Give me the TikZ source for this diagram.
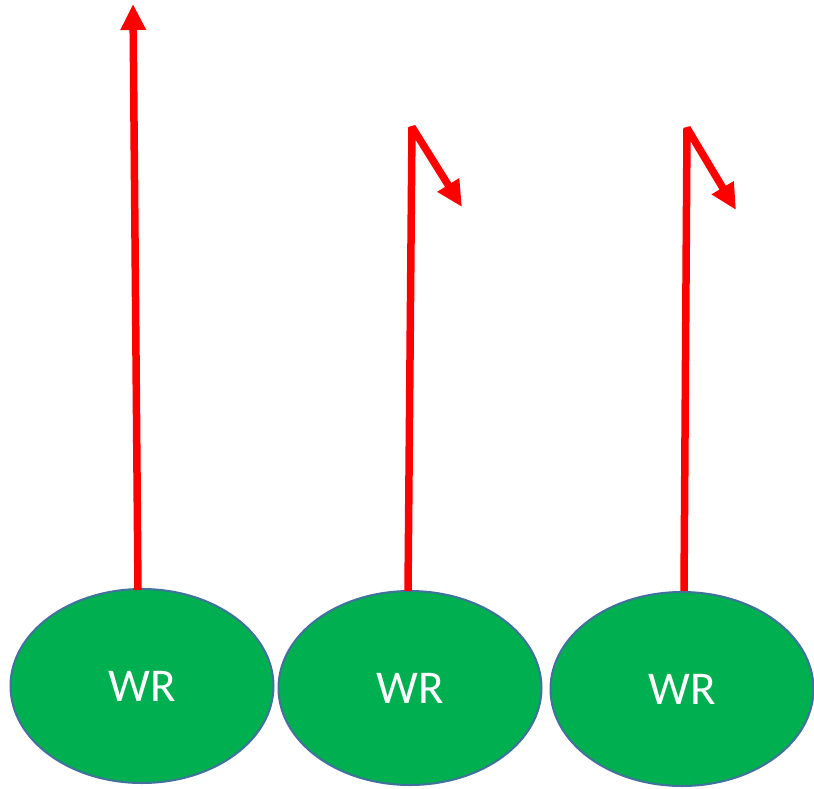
\documentclass[tikz,border=0pt]{standalone}
\usepackage{fontspec}
\setmainfont{Carlito}
\usetikzlibrary{shapes.geometric,arrows.meta}
\definecolor{wrgreen}{HTML}{00B050}
\definecolor{wrborder}{HTML}{41719C}
\tikzset{
  wr/.style={ellipse, fill=wrgreen, draw=wrborder, line width=2pt, inner sep=0pt,
    minimum width=263pt, minimum height=194pt, text=white,
    font=\fontsize{47}{56}\selectfont},
  redarrow/.style={draw=red, line width=7.5pt, line join=bevel,
    -{Triangle[width=24pt,length=26pt]}}
}
\begin{document}
\begin{tikzpicture}[x=1pt,y=-1pt]
\useasboundingbox (0,0) rectangle (814,789);
\node[wr] (e1) at (142,686) {WR};
\node[wr] (e2) at (410,688) {WR};
\node[wr] (e3) at (682,689) {WR};
\coordinate (s1) at (138,590);
\coordinate (t1) at (133,4);
\coordinate (s2) at (408,591);
\coordinate (b2) at (412,127);
\coordinate (t2) at (462,207);
\coordinate (s3) at (684,591);
\coordinate (b3) at (687,128);
\coordinate (t3) at (736,210);
\draw[redarrow] (s1) -- (t1);
\draw[redarrow] (s2) -- (b2) -- (t2);
\draw[redarrow] (s3) -- (b3) -- (t3);
\end{tikzpicture}
\end{document}
